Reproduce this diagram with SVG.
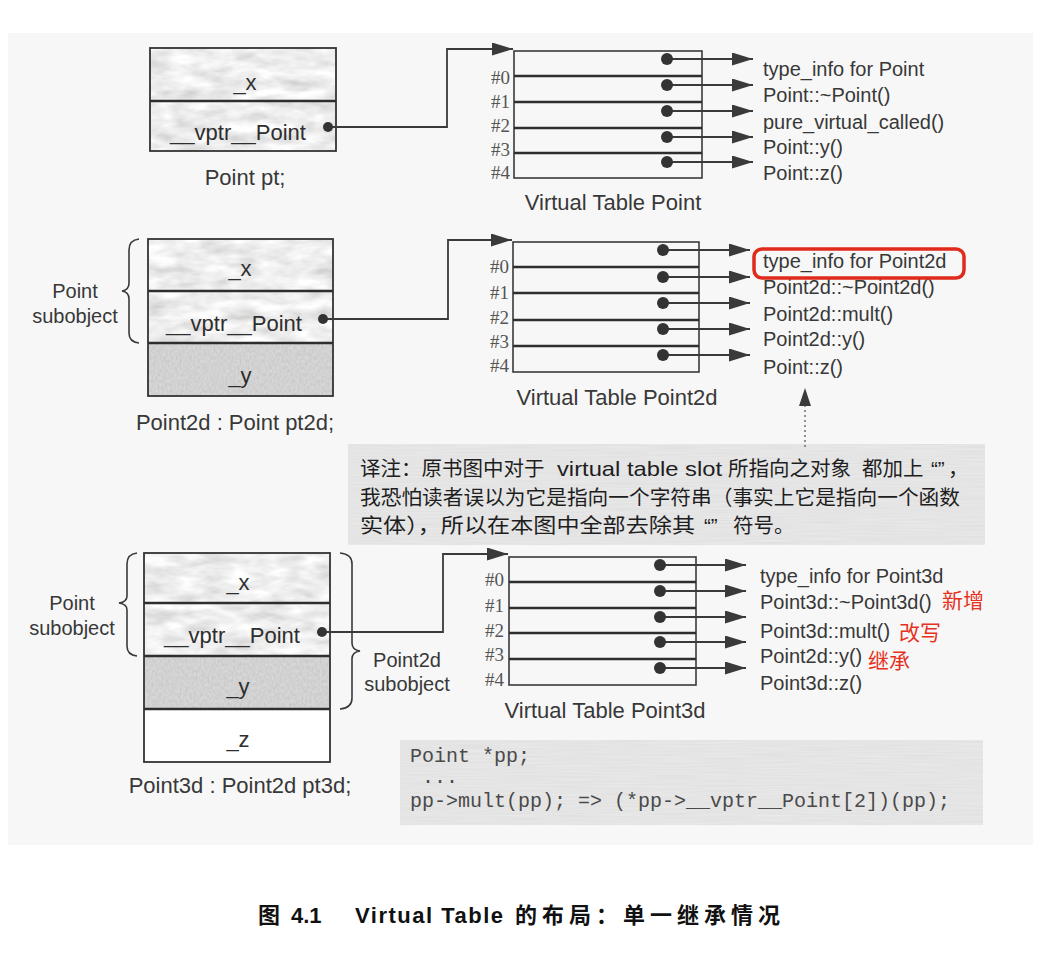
<svg xmlns="http://www.w3.org/2000/svg" width="1058" height="968" viewBox="0 0 1058 968">
<style>
.lbl{font-family:"Liberation Sans",Arial,sans-serif;font-size:20px;fill:#383838}
.cap{font-family:"Liberation Sans",Arial,sans-serif;font-size:22px;fill:#383838}
.cell{font-family:"Liberation Sans",Arial,sans-serif;font-size:22px;fill:#2e2e2e}
.idx{font-family:"Liberation Serif","Times New Roman",serif;font-size:19px;fill:#555;text-anchor:end}
.mid{text-anchor:middle}
.tbl{fill:none;stroke:#3a3a3a;stroke-width:1.6}
.div{stroke:#2e2e2e;stroke-width:2.6}
.obox{fill:none;stroke:#333;stroke-width:1.8}
.white{fill:#ffffff}
.conn{fill:none;stroke:#3a3a3a;stroke-width:1.8}
.dot{fill:#333}
.brace{fill:none;stroke:#3a3a3a;stroke-width:1.6}
.red{font-family:"Noto Sans CJK SC",sans-serif;font-size:21px;fill:#e5321e}
.note{font-family:"Liberation Sans","Noto Sans CJK SC",sans-serif;font-size:20.5px;fill:#1e1e1e}
.code{font-family:"Liberation Mono","Courier New",monospace;font-size:20px;fill:#4a4a4a}
.title{font-family:"Liberation Sans","Noto Sans CJK SC",sans-serif;font-size:22px;font-weight:bold;fill:#111}
</style>
<defs>
<marker id="ah" markerUnits="userSpaceOnUse" markerWidth="21" markerHeight="13" refX="21" refY="6.5" orient="auto">
<path d="M0,0 L21,6.5 L0,13 Z" fill="#3a3a3a"/>
</marker>
<filter id="stone" x="0" y="0" width="1" height="1">
<feTurbulence type="fractalNoise" baseFrequency="0.035 0.09" numOctaves="3" seed="5"/>
<feColorMatrix type="matrix" values="0.55 0 0 0 0.58  0.55 0 0 0 0.58  0.55 0 0 0 0.58  0 0 0 0 1"/>
<feComposite in2="SourceGraphic" operator="in"/>
</filter>
<filter id="stoneD" x="0" y="0" width="1" height="1">
<feTurbulence type="fractalNoise" baseFrequency="0.5 0.3" numOctaves="1" seed="2"/>
<feColorMatrix type="matrix" values="0.2 0 0 0 0.54  0.2 0 0 0 0.54  0.2 0 0 0 0.54  0 0 0 0 1"/>
<feComposite in2="SourceGraphic" operator="in"/>
</filter>
<filter id="paper" x="0" y="0" width="1" height="1">
<feTurbulence type="fractalNoise" baseFrequency="0.02 0.9" numOctaves="1" seed="9"/>
<feColorMatrix type="matrix" values="0.12 0 0 0 0.72  0.12 0 0 0 0.72  0.12 0 0 0 0.72  0 0 0 0 1"/>
<feComposite in2="SourceGraphic" operator="in"/>
</filter>
</defs>

<rect x="0" y="0" width="1058" height="968" fill="#ffffff"/>
<rect x="8" y="33" width="1025" height="812" fill="#f7f7f7"/>

<!-- Point pt -->
<g id="obj-point">
<rect x="150" y="48" width="186" height="103" fill="#ddd" filter="url(#stone)"/>
<rect class="obox" x="150" y="48" width="186" height="103"/>
<line class="div" x1="150" y1="101" x2="336" y2="101"/>
<text class="cell mid" x="245" y="90">_x</text>
<text class="cell mid" x="238" y="140">__vptr__Point</text>
<text class="cap mid" x="245" y="185">Point pt;</text>
</g>

<g id="vt-point">
<rect class="tbl" x="514" y="51" width="188" height="127"/>
<line class="div" x1="514" y1="76" x2="702" y2="76"/>
<line class="div" x1="514" y1="102" x2="702" y2="102"/>
<line class="div" x1="514" y1="128" x2="702" y2="128"/>
<line class="div" x1="514" y1="153" x2="702" y2="153"/>
<text class="idx" x="510" y="84">#0</text>
<text class="idx" x="510" y="108">#1</text>
<text class="idx" x="510" y="132">#2</text>
<text class="idx" x="510" y="156">#3</text>
<text class="idx" x="510" y="179">#4</text>
<text class="lbl" x="763" y="76">type_info for Point</text>
<text class="lbl" x="763" y="102">Point::~Point()</text>
<text class="lbl" x="763" y="129">pure_virtual_called()</text>
<text class="lbl" x="763" y="154">Point::y()</text>
<text class="lbl" x="763" y="180">Point::z()</text>
<text class="cap mid" x="613" y="210">Virtual Table Point</text>
</g>

<!-- Point2d -->
<g id="obj-point2d">
<rect x="148" y="239" width="185" height="104" fill="#ddd" filter="url(#stone)"/>
<rect x="148" y="343" width="185" height="53" fill="#a4a4a4" filter="url(#stoneD)"/>
<rect class="obox" x="148" y="239" width="185" height="157"/>
<line class="div" x1="148" y1="291" x2="333" y2="291"/>
<line class="div" x1="148" y1="343" x2="333" y2="343"/>
<text class="cell mid" x="240" y="276">_x</text>
<text class="cell mid" x="234" y="331">__vptr__Point</text>
<text class="cell mid" x="240" y="383">_y</text>
<path class="brace" d="M139,239 Q129,240 129,250 L129,283 Q129,290 122,291 Q129,292 129,299 L129,333 Q129,342 139,343"/>
<text class="lbl mid" x="75" y="298">Point</text>
<text class="lbl mid" x="75" y="323">subobject</text>
<text class="cap mid" x="235" y="430">Point2d : Point pt2d;</text>
</g>

<g id="vt-point2d">
<rect class="tbl" x="513" y="242" width="186" height="130"/>
<line class="div" x1="513" y1="267" x2="699" y2="267"/>
<line class="div" x1="513" y1="293" x2="699" y2="293"/>
<line class="div" x1="513" y1="320" x2="699" y2="320"/>
<line class="div" x1="513" y1="346" x2="699" y2="346"/>
<text class="idx" x="509" y="273">#0</text>
<text class="idx" x="509" y="299">#1</text>
<text class="idx" x="509" y="324">#2</text>
<text class="idx" x="509" y="348">#3</text>
<text class="idx" x="509" y="372">#4</text>
<text class="lbl" x="763" y="268">type_info for Point2d</text>
<text class="lbl" x="763" y="294">Point2d::~Point2d()</text>
<text class="lbl" x="763" y="321">Point2d::mult()</text>
<text class="lbl" x="763" y="346">Point2d::y()</text>
<text class="lbl" x="763" y="374">Point::z()</text>
<rect x="754" y="249" width="210" height="29" rx="8" fill="none" stroke="#e02a1c" stroke-width="3.5"/>
<text class="cap mid" x="617" y="405">Virtual Table Point2d</text>
</g>

<!-- note -->
<g id="note">
<rect x="348" y="444" width="637" height="101" fill="#c6c6c6" filter="url(#paper)"/>
<text class="note" x="360" y="476">译注：原书图中对于</text>
<text class="note" x="557" y="476" style="font-size:21px" textLength="165" lengthAdjust="spacingAndGlyphs">virtual table slot</text>
<text class="note" x="728" y="476">所指向之对象</text>
<text class="note" x="862" y="476">都加上</text>
<text class="note" x="931" y="476">“”</text>
<text class="note" x="948" y="476">，</text>
<text class="note" x="360" y="505" textLength="600" lengthAdjust="spacingAndGlyphs">我恐怕读者误以为它是指向一个字符串（事实上它是指向一个函数</text>
<text class="note" x="360" y="533" textLength="335" lengthAdjust="spacingAndGlyphs">实体），所以在本图中全部去除其</text>
<text class="note" x="704" y="533">“”</text>
<text class="note" x="733" y="533">符号。</text>
</g>

<!-- Point3d -->
<g id="obj-point3d">
<rect x="144" y="553" width="186" height="103" fill="#ddd" filter="url(#stone)"/>
<rect x="144" y="656" width="186" height="53" fill="#a4a4a4" filter="url(#stoneD)"/>
<rect class="white" x="144" y="709" width="186" height="53"/>
<rect class="obox" x="144" y="553" width="186" height="209"/>
<line class="div" x1="144" y1="603" x2="330" y2="603"/>
<line class="div" x1="144" y1="656" x2="330" y2="656"/>
<line class="div" x1="144" y1="709" x2="330" y2="709"/>
<text class="cell mid" x="238" y="590">_x</text>
<text class="cell mid" x="232" y="643">__vptr__Point</text>
<text class="cell mid" x="238" y="694">_y</text>
<text class="cell mid" x="238" y="747">_z</text>
<path class="brace" d="M137,553 Q127,554 127,564 L127,596 Q127,602 119,603 Q127,604 127,610 L127,646 Q127,655 137,656"/>
<text class="lbl mid" x="72" y="610">Point</text>
<text class="lbl mid" x="72" y="635">subobject</text>
<path class="brace" d="M340,553 Q352,554 352,564 L352,643 Q352,650 360,651 Q352,652 352,659 L352,698 Q352,708 340,709"/>
<text class="lbl mid" x="407" y="667">Point2d</text>
<text class="lbl mid" x="407" y="691">subobject</text>
<text class="cap mid" x="240" y="793">Point3d : Point2d pt3d;</text>
</g>

<g id="vt-point3d">
<rect class="tbl" x="509" y="557" width="187" height="128"/>
<line class="div" x1="509" y1="582" x2="696" y2="582"/>
<line class="div" x1="509" y1="608" x2="696" y2="608"/>
<line class="div" x1="509" y1="633" x2="696" y2="633"/>
<line class="div" x1="509" y1="659" x2="696" y2="659"/>
<text class="idx" x="504" y="586">#0</text>
<text class="idx" x="504" y="612">#1</text>
<text class="idx" x="504" y="637">#2</text>
<text class="idx" x="504" y="661">#3</text>
<text class="idx" x="504" y="686">#4</text>
<text class="lbl" x="760" y="583">type_info for Point3d</text>
<text class="lbl" x="760" y="609">Point3d::~Point3d()</text>
<text class="lbl" x="760" y="638">Point3d::mult()</text>
<text class="lbl" x="760" y="663">Point2d::y()</text>
<text class="lbl" x="760" y="690">Point3d::z()</text>
<text class="red" x="942" y="608">新增</text>
<text class="red" x="899" y="640">改写</text>
<text class="red" x="868" y="668">继承</text>
<text class="cap mid" x="605" y="718">Virtual Table Point3d</text>
</g>

<!-- code -->
<g id="code">
<rect x="400" y="740" width="583" height="85" fill="#cacaca" filter="url(#paper)"/>
<text class="code" x="410" y="762">Point *pp;</text>
<text class="code" x="422" y="783">...</text>
<text class="code" x="410" y="807" textLength="540" lengthAdjust="spacingAndGlyphs">pp-&gt;mult(pp); =&gt; (*pp-&gt;__vptr__Point[2])(pp);</text>
</g>

<!-- connectors -->
<g id="connectors">
<polyline class="conn" points="328,127 447,127 447,49 513,49" marker-end="url(#ah)"/>
<circle class="dot" cx="328" cy="127" r="5"/>
<polyline class="conn" points="323,319 448,319 448,240 512,240" marker-end="url(#ah)"/>
<circle class="dot" cx="323" cy="319" r="5"/>
<polyline class="conn" points="322,632 443,632 443,554 508,554" marker-end="url(#ah)"/>
<circle class="dot" cx="322" cy="632" r="5"/>

<g>
<line class="conn" x1="667" y1="59" x2="753" y2="59" marker-end="url(#ah)"/>
<line class="conn" x1="667" y1="85" x2="753" y2="85" marker-end="url(#ah)"/>
<line class="conn" x1="667" y1="111" x2="753" y2="111" marker-end="url(#ah)"/>
<line class="conn" x1="667" y1="137" x2="753" y2="137" marker-end="url(#ah)"/>
<line class="conn" x1="667" y1="162" x2="753" y2="162" marker-end="url(#ah)"/>
<circle class="dot" cx="667" cy="59" r="6"/>
<circle class="dot" cx="667" cy="85" r="6"/>
<circle class="dot" cx="667" cy="111" r="6"/>
<circle class="dot" cx="667" cy="137" r="6"/>
<circle class="dot" cx="667" cy="162" r="6"/>
</g>
<g>
<line class="conn" x1="663" y1="250" x2="750" y2="250" marker-end="url(#ah)"/>
<line class="conn" x1="663" y1="277" x2="750" y2="277" marker-end="url(#ah)"/>
<line class="conn" x1="663" y1="303" x2="750" y2="303" marker-end="url(#ah)"/>
<line class="conn" x1="663" y1="329" x2="750" y2="329" marker-end="url(#ah)"/>
<line class="conn" x1="663" y1="355" x2="750" y2="355" marker-end="url(#ah)"/>
<circle class="dot" cx="663" cy="250" r="6"/>
<circle class="dot" cx="663" cy="277" r="6"/>
<circle class="dot" cx="663" cy="303" r="6"/>
<circle class="dot" cx="663" cy="329" r="6"/>
<circle class="dot" cx="663" cy="355" r="6"/>
</g>
<g>
<line class="conn" x1="660" y1="565" x2="746" y2="565" marker-end="url(#ah)"/>
<line class="conn" x1="660" y1="591" x2="746" y2="591" marker-end="url(#ah)"/>
<line class="conn" x1="660" y1="617" x2="746" y2="617" marker-end="url(#ah)"/>
<line class="conn" x1="660" y1="642" x2="746" y2="642" marker-end="url(#ah)"/>
<line class="conn" x1="660" y1="668" x2="746" y2="668" marker-end="url(#ah)"/>
<circle class="dot" cx="660" cy="565" r="6"/>
<circle class="dot" cx="660" cy="591" r="6"/>
<circle class="dot" cx="660" cy="617" r="6"/>
<circle class="dot" cx="660" cy="642" r="6"/>
<circle class="dot" cx="660" cy="668" r="6"/>
</g>
<line x1="805" y1="447" x2="805" y2="404" stroke="#777" stroke-width="1.6" stroke-dasharray="2 3"/>
<polygon points="805,388 799,406 811,406" fill="#3a3a3a"/>
</g>

<!-- caption -->
<g id="caption">
<text class="title" x="258" y="923">图</text>
<text class="title" x="291" y="923">4.1</text>
<text class="title" x="355" y="923" style="letter-spacing:1.5px">Virtual Table</text>
<text class="title" x="515" y="923" style="letter-spacing:5px">的布局：单一继承情况</text>
</g>
</svg>
